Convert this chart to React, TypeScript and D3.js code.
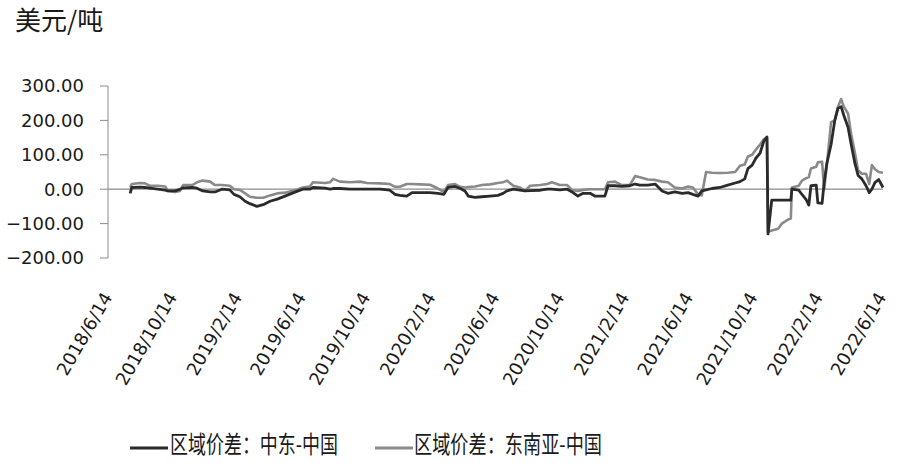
import React from "react";
import * as d3 from "d3";

const unitLabel = "美元/吨";
const seriesNames = ["区域价差：中东-中国", "区域价差：东南亚-中国"];
const yTicks = [300, 200, 100, 0, -100, -200];
const xTickLabels = [
  "2018/6/14", "2018/10/14", "2019/2/14", "2019/6/14", "2019/10/14", "2020/2/14",
  "2020/6/14", "2020/10/14", "2021/2/14", "2021/6/14", "2021/10/14", "2022/2/14", "2022/6/14",
];

const dates = [
  "2018-07-24","2018-07-27","2018-08-12","2018-08-21","2018-08-30","2018-09-14","2018-09-28","2018-10-03",
  "2018-10-17","2018-10-26","2018-11-01","2018-11-18","2018-11-27","2018-12-08","2018-12-22","2018-12-31",
  "2019-01-13","2019-01-28","2019-02-05","2019-02-16","2019-02-26","2019-03-07","2019-03-20","2019-04-01",
  "2019-04-14","2019-04-29","2019-05-12","2019-05-25","2019-06-06","2019-06-15","2019-06-28","2019-07-04",
  "2019-07-27","2019-08-05","2019-08-11","2019-08-24","2019-09-12","2019-10-01","2019-10-14","2019-11-08",
  "2019-11-26","2019-12-06","2019-12-15","2019-12-28","2020-01-07","2020-01-22","2020-02-10","2020-02-25",
  "2020-03-07","2020-03-15","2020-03-28","2020-04-07","2020-04-16","2020-04-22","2020-05-05","2020-05-18",
  "2020-06-02","2020-06-17","2020-06-27","2020-07-04","2020-07-16","2020-07-29","2020-08-07","2020-08-17",
  "2020-09-05","2020-09-18","2020-09-27","2020-10-12","2020-10-26","2020-11-04","2020-11-15","2020-11-25",
  "2020-12-08","2020-12-17","2021-01-05","2021-01-11","2021-01-24","2021-02-06","2021-02-21","2021-03-03",
  "2021-03-12","2021-03-27","2021-04-10","2021-04-23","2021-05-04","2021-05-17","2021-05-31","2021-06-11",
  "2021-06-20","2021-06-30","2021-07-07","2021-07-15","2021-07-26","2021-08-10","2021-08-25","2021-09-08",
  "2021-09-17","2021-09-26","2021-10-02","2021-10-10","2021-10-17","2021-10-25","2021-11-01","2021-11-07",
  "2021-11-09","2021-11-16","2021-11-28","2021-12-05","2021-12-17","2021-12-22","2021-12-24","2022-01-06",
  "2022-01-12","2022-01-20","2022-01-25","2022-01-29","2022-02-08","2022-02-11","2022-02-19","2022-02-23",
  "2022-02-28","2022-03-08","2022-03-15","2022-03-21","2022-03-27","2022-04-01","2022-04-09","2022-04-15",
  "2022-04-22","2022-04-28","2022-05-05","2022-05-13","2022-05-19","2022-05-24","2022-05-30","2022-06-06",
  "2022-06-14",
];

// 区域价差：中东-中国
const middleEast = [
  -12, 5, 6, 5, 3, 0, -3, -5,
  -5, 0, 4, 5, 3, -5, -8, -8,
  0, -2, -15, -22, -35, -42, -50, -45,
  -35, -28, -20, -12, -5, 0, 0, 5,
  3, 0, 2, 2, 0, 0, 0, 0,
  -3, -15, -18, -20, -10, -10, -10, -12,
  -15, 5, 8, 2, -5, -20, -24, -22,
  -20, -18, -12, -5, 0, -3, -5, -4,
  -3, 0, 0, -2, 0, -8, -20, -12,
  -12, -20, -20, 10, 10, 8, 10, 15,
  12, 12, 15, -5, -12, -8, -12, -10,
  -15, -20, -5, -2, 2, 5, 12, 18,
  22, 30, 60, 70, 90, 105, 140, 152,
  -130, -32, -32, -32, -32, -32, 0, -3,
  -15, -30, -46, 10, 12, -40, -41, 20,
  75, 130, 200, 235, 240, 215, 180, 130,
  75, 40, 30, 10, -10, 0, 20, 28,
  5,
];

// 区域价差：东南亚-中国
const southeastAsia = [
  5, 15, 18, 17, 10, 10, 8, -5,
  -8, -5, 12, 12, 20, 25, 22, 12,
  12, 10, 0, -2, -12, -22, -25, -25,
  -18, -12, -10, -5, 0, 5, 8, 20,
  18, 20, 30, 22, 20, 22, 18, 17,
  15, 7, 7, 15, 15, 14, 13, 2,
  -8, 12, 15, 7, 5, 6, 8, 12,
  14, 18, 20, 25, 10, 5, -5, 10,
  12, 15, 20, 12, 12, -3, -5, -2,
  0, 0, 0, 20, 22, 12, 12, 38,
  35, 28, 27, 22, 20, 5, 2, 8,
  5, -15, -18, 50, 48, 47, 48, 50,
  68, 72, 95, 100, 115, 130, 145, 148,
  -124, -120, -115, -100, -88, -85, 5, 10,
  25, 32, 35, 60, 65, 78, 80, 0,
  70, 195, 200, 240, 262, 240, 220, 160,
  105, 55, 45, 45, 15, 70, 58, 50,
  48,
];

const W = 900;
const H = 468;

export default function App() {
  const parse = d3.timeParse("%Y-%m-%d");
  const parseLabel = d3.timeParse("%Y/%m/%d");
  const x = d3
    .scaleTime()
    .domain([parseLabel("2018/6/14") as Date, parseLabel("2022/6/14") as Date])
    .range([109, 883]);
  const y = d3.scaleLinear().domain([-200, 300]).range([258, 86]);

  const pts = dates.map((d) => parse(d) as Date);
  const line = d3
    .line<number>()
    .x((_, i) => x(pts[i]))
    .y((v) => y(v));

  const axisColor = "#8c8c8c";
  const darkColor = "#2b2b2b";
  const grayColor = "#8a8a8a";
  const numFont = "'DejaVu Sans', sans-serif";
  const cjkFont = "'Noto Sans CJK SC', sans-serif";

  return (
    <svg
      width={W}
      height={H}
      viewBox={`0 0 ${W} ${H}`}
      style={{ position: "absolute", left: 0, top: 0, background: "#fff" }}
    >
      <rect width={W} height={H} fill="#fff" />
      <text x={15} y={30} fontFamily={cjkFont} fontSize={26} fill="#1a1a1a">
        {unitLabel}
      </text>

      {/* y axis */}
      <line x1={108} x2={108} y1={y(300)} y2={y(-200)} stroke={axisColor} strokeWidth={1} />
      {yTicks.map((t) => (
        <g key={t}>
          <line x1={100} x2={108} y1={y(t)} y2={y(t)} stroke={axisColor} strokeWidth={1} />
          <text
            x={84}
            y={y(t)}
            dy="0.36em"
            textAnchor="end"
            fontFamily={numFont}
            fontSize={18}
            fill="#1a1a1a"
          >
            {d3.format(".2f")(t)}
          </text>
        </g>
      ))}

      {/* zero line / category axis */}
      <line x1={108} x2={883} y1={y(0)} y2={y(0)} stroke={axisColor} strokeWidth={1.2} />

      {/* x labels */}
      {xTickLabels.map((lbl) => {
        const px = x(parseLabel(lbl) as Date) + 4;
        const py = 297;
        return (
          <text
            key={lbl}
            x={px}
            y={py}
            textAnchor="end"
            transform={`rotate(-60 ${px} ${py})`}
            fontFamily={numFont}
            fontSize={18}
            fill="#1a1a1a"
          >
            {lbl}
          </text>
        );
      })}

      {/* series */}
      <path d={line(southeastAsia) || ""} fill="none" stroke={grayColor} strokeWidth={2.6} strokeLinejoin="round" />
      <path d={line(middleEast) || ""} fill="none" stroke={darkColor} strokeWidth={2.8} strokeLinejoin="round" />

      {/* legend */}
      <line x1={130} x2={168} y1={448} y2={448} stroke={darkColor} strokeWidth={3} />
      <text
        x={170}
        y={453}
        fontFamily={cjkFont}
        fontSize={24}
        fill="#1a1a1a"
        textLength={168}
        lengthAdjust="spacingAndGlyphs"
      >
        {seriesNames[0]}
      </text>
      <line x1={375} x2={413} y1={448} y2={448} stroke={grayColor} strokeWidth={3} />
      <text
        x={414}
        y={453}
        fontFamily={cjkFont}
        fontSize={24}
        fill="#1a1a1a"
        textLength={188}
        lengthAdjust="spacingAndGlyphs"
      >
        {seriesNames[1]}
      </text>
    </svg>
  );
}
